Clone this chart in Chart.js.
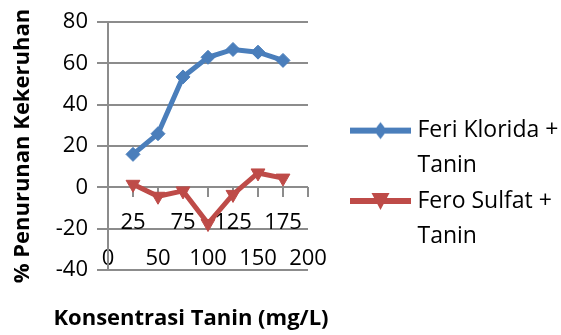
<!DOCTYPE html>
<html>
<head>
<meta charset="utf-8">
<script src="https://cdn.jsdelivr.net/npm/chart.js@4/dist/chart.umd.min.js"></script>
<style>
  html, body { margin: 0; padding: 0; background: #fff; }
  #wrap { width: 561px; height: 335px; position: relative; }
</style>
</head>
<body>
<div id="wrap"><canvas id="chart"></canvas></div>
<script>
// Tannin concentration (mg/L) and turbidity removal (%)
const concentrations = [25, 50, 75, 100, 125, 150, 175];
const feriKlorida = [16, 26, 53.5, 63, 66.8, 65.5, 61.5];
const feroSulfat = [1.5, -4.3, -1.7, -17.5, -3.4, 7, 4.5];
const seriesNames = ['Feri Klorida + Tanin', 'Fero Sulfat + Tanin'];
const legendLines = [['Feri Klorida +', 'Tanin'], ['Fero Sulfat +', 'Tanin']];

// Axis ticks
const yTicks = [-40, -20, 0, 20, 40, 60, 80];
const xTicks = [0, 50, 100, 150, 200];
const zeroLineMarks = [0, 25, 50, 75, 100, 125, 150, 175, 200];
const zeroLineLabels = [25, 75, 125, 175];

// Axis titles
const xTitle = 'Konsentrasi Tanin (mg/L)';
const yTitle = '% Penurunan Kekeruhan';

const BLUE = '#4a7ebb';
const RED = '#be4b48';
const GRID = '#8c8c8c';
const FONT = 'Open Sans';

// Legend swatch: a short line with the series marker in the middle
function swatch(color, marker) {
  const c = document.createElement('canvas');
  c.width = 108; c.height = 22;
  const g = c.getContext('2d');
  g.strokeStyle = color;
  g.lineWidth = 6;
  g.beginPath(); g.moveTo(47, 11); g.lineTo(108, 11); g.stroke();
  g.fillStyle = color;
  g.beginPath();
  const cx = 77.5, cy = 11;
  if (marker === 'diamond') {
    g.moveTo(cx, cy - 8.5); g.lineTo(cx + 6.5, cy); g.lineTo(cx, cy + 8.5); g.lineTo(cx - 6.5, cy);
  } else {
    g.moveTo(cx - 9, cy - 8); g.lineTo(cx + 9, cy - 8); g.lineTo(cx, cy + 9);
  }
  g.closePath(); g.fill();
  return c;
}
const swatches = [swatch(BLUE, 'diamond'), swatch(RED, 'triangle')];

// Axis titles placed around the plot area (wider than the plot itself)
const axisTitles = {
  id: 'axisTitles',
  afterDraw(chart, args, opts) {
    const { ctx, chartArea } = chart;
    opts.items.forEach((t) => {
      ctx.save();
      ctx.font = `bold ${t.size}px "${FONT}"`;
      ctx.fillStyle = '#000';
      ctx.textAlign = 'center';
      ctx.textBaseline = 'middle';
      const x = chartArea.left + t.dx;
      const y = t.anchor === 'x' ? chartArea.bottom + t.dy : (chartArea.top + chartArea.bottom) / 2 + t.dy;
      ctx.translate(x, y);
      ctx.rotate(t.rotation * Math.PI / 180);
      ctx.fillText(t.text, 0, 0);
      ctx.restore();
    });
  }
};

const toPoints = (ys) => concentrations.map((x, i) => ({ x, y: ys[i] }));

new Chart(document.getElementById('chart'), {
  type: 'line',
  plugins: [axisTitles],
  data: {
    datasets: [
      {
        label: seriesNames[0],
        data: toPoints(feriKlorida),
        borderColor: BLUE,
        backgroundColor: BLUE,
        borderWidth: 5,
        pointStyle: 'rectRot',
        pointRadius: 7,
        pointBorderWidth: 1,
        pointBackgroundColor: BLUE,
        pointBorderColor: BLUE,
        tension: 0,
        xAxisID: 'x'
      },
      {
        label: seriesNames[1],
        data: toPoints(feroSulfat),
        borderColor: RED,
        backgroundColor: RED,
        borderWidth: 5,
        pointStyle: 'triangle',
        pointRotation: 180,
        pointRadius: 8,
        pointBorderWidth: 1,
        pointBackgroundColor: RED,
        pointBorderColor: RED,
        tension: 0,
        xAxisID: 'x'
      }
    ]
  },
  options: {
    responsive: true,
    maintainAspectRatio: false,
    animation: false,
    devicePixelRatio: 1,
    layout: { padding: { top: 19, left: 0, right: 0, bottom: 0 } },
    scales: {
      x: {
        type: 'linear',
        position: 'bottom',
        min: 0,
        max: 200,
        afterBuildTicks: (s) => { s.ticks = xTicks.map(v => ({ value: v })); },
        afterFit: (s) => { s.height = 65; },
        grid: { display: false, drawTicks: false },
        border: { display: false },
        ticks: {
          color: '#000',
          font: { family: FONT, size: 22 },
          mirror: true,
          padding: -2,
          maxRotation: 0,
          autoSkip: false
        }
      },
      x2: {
        type: 'linear',
        axis: 'x',
        position: { y: 0 },
        min: 0,
        max: 200,
        afterBuildTicks: (s) => { s.ticks = zeroLineMarks.map(v => ({ value: v })); },
        grid: { display: true, drawOnChartArea: false, drawTicks: true, tickLength: 10, color: GRID, lineWidth: 2 },
        border: { display: false },
        ticks: {
          color: '#000',
          font: { family: FONT, size: 22 },
          padding: 12,
          maxRotation: 0,
          autoSkip: false,
          callback: (v) => zeroLineLabels.includes(v) ? String(v) : ''
        }
      },
      y: {
        type: 'linear',
        position: 'left',
        min: -40,
        max: 80,
        afterBuildTicks: (s) => { s.ticks = yTicks.map(v => ({ value: v })); },
        afterFit: (s) => { s.width = 108; },
        grid: { color: GRID, lineWidth: 2, drawTicks: true, tickLength: 11 },
        border: { display: true, color: GRID, width: 2 },
        ticks: {
          color: '#000',
          font: { family: FONT, size: 22 },
          padding: 9
        }
      }
    },
    plugins: {
      tooltip: { enabled: false },
      axisTitles: {
        items: [
          { anchor: 'x', text: xTitle, size: 22, dx: 83, dy: 49, rotation: 0 },
          { anchor: 'y', text: yTitle, size: 22, dx: -85, dy: 0, rotation: -90 }
        ]
      },
      legend: {
        position: 'right',
        align: 'center',
        maxWidth: 253,
        title: { display: true, text: '', font: { size: 10, lineHeight: 1 }, padding: { top: 15, bottom: 0 } },
        labels: {
          color: '#000',
          font: { family: FONT, size: 23, lineHeight: 1.53 },
          usePointStyle: true,
          pointStyleWidth: 98,
          padding: 0,
          generateLabels: (chart) => {
            const items = Chart.defaults.plugins.legend.labels.generateLabels(chart);
            items.forEach((item, i) => {
              item.text = legendLines[i];
              item.pointStyle = swatches[i];
              item.rotation = 0;
            });
            return items;
          }
        }
      }
    }
  }
});
</script>
</body>
</html>
